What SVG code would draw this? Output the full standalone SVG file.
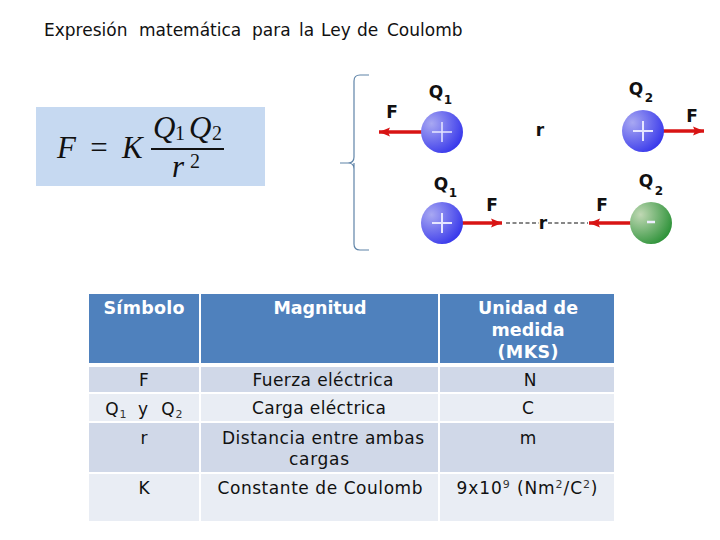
<svg xmlns="http://www.w3.org/2000/svg" width="720" height="540" viewBox="0 0 720 540">
<style>
text{font-family:"DejaVu Sans",Verdana,sans-serif;fill:#111;font-size:17px;text-anchor:middle}
.h{fill:#4f81bd}.a{fill:#d0d8e8}.b{fill:#e9edf4}
.th{fill:#fff;font-weight:bold;font-size:17.5px}
.lbl{font-weight:bold;font-size:17px;fill:#111}
.ls{font-weight:bold;font-size:12px;fill:#111}
.sub{font-size:11px;fill:#333}
.math{font-family:"Liberation Serif","Times New Roman",serif;font-style:italic;font-size:31px;text-anchor:start}
.num{font-family:"Liberation Serif","Times New Roman",serif;font-size:20px}
.plus{stroke:#e6e6ff;stroke-width:1.5}
.arr{stroke:#d81414;stroke-width:3.5}
.dash{stroke:#111;stroke-width:1.2;stroke-dasharray:4 2.5}
</style>
<defs>
<radialGradient id="bl" cx="0.25" cy="0.3" r="0.9"><stop offset="0" stop-color="#a8a8f2"/><stop offset="1" stop-color="#2b2bea"/></radialGradient>
<radialGradient id="gr" cx="0.25" cy="0.3" r="0.9"><stop offset="0" stop-color="#c0d8b4"/><stop offset="1" stop-color="#1c8a2a"/></radialGradient>
<marker id="ah" markerUnits="userSpaceOnUse" markerWidth="12" markerHeight="10" refX="11" refY="5" orient="auto"><path d="M0 0.5L11 5L0 9.5L2 5Z" fill="#d81414"/></marker>
</defs>
<text id="title" y="36" style="text-anchor:start"><tspan x="44">Expresión</tspan> <tspan x="139">matemática</tspan> <tspan x="252">para</tspan> <tspan x="299">la</tspan> <tspan x="321">Ley</tspan> <tspan x="357">de</tspan> <tspan x="387">Coulomb</tspan></text>
<g id="formula">
<rect x="36" y="107" width="229" height="79" fill="#c6d9f1"/>
<text class="math" x="57" y="158">F</text>
<text x="99" y="158" style="font-family:'Liberation Serif',serif;font-size:31px">=</text>
<text class="math" x="122" y="158">K</text>
<text class="math" x="153" y="138">Q</text>
<text class="num" x="180" y="140">1</text>
<text class="math" x="189" y="138">Q</text>
<text class="num" x="217" y="140">2</text>
<rect x="151" y="148" width="73" height="2" fill="#111"/>
<text class="math" x="172" y="177">r</text>
<text class="num" x="195" y="168">2</text>
</g>
<g id="connectors">
<path d="M369 75H360Q354 75 354 81V157Q354 163 348 163H340M354 163V244Q354 250 360 250H369M348 163Q354 163 354 169" fill="none" stroke="#5f84a8" stroke-width="1.2"/>
<line class="arr" x1="422" y1="132" x2="379" y2="132" marker-end="url(#ah)"/>
<line class="arr" x1="663" y1="131" x2="704" y2="131" marker-end="url(#ah)"/>
<line class="arr" x1="461" y1="223" x2="502" y2="223" marker-end="url(#ah)"/>
<line class="arr" x1="631" y1="223" x2="589" y2="223" marker-end="url(#ah)"/>
<line class="dash" x1="506" y1="223" x2="539" y2="223"/>
<line class="dash" x1="548" y1="223" x2="588" y2="223"/>
</g>
<g id="q1a"><circle cx="442" cy="132" r="21" fill="url(#bl)"/><path class="plus" d="M432 132H452M442 122V142"/>
<text class="lbl" x="436" y="98">Q</text><text class="ls" x="448" y="104">1</text></g>
<g id="q2a"><circle cx="643" cy="131" r="21" fill="url(#bl)"/><path class="plus" d="M633 131H653M643 121V141" style="stroke-width:2"/>
<text class="lbl" x="636" y="95">Q</text><text class="ls" x="649" y="102">2</text></g>
<g id="q1b"><circle cx="442" cy="223" r="21" fill="url(#bl)"/><path class="plus" d="M432 223H452M442 213V233" style="stroke-width:2"/>
<text class="lbl" x="441" y="190">Q</text><text class="ls" x="453" y="197">1</text></g>
<g id="q2b"><circle cx="651" cy="223" r="21" fill="url(#gr)"/><path d="M647 222H655" stroke="#eef" stroke-width="2.5"/>
<text class="lbl" x="646" y="187">Q</text><text class="ls" x="659" y="195">2</text></g>
<text class="lbl" x="392" y="118">F</text>
<text class="lbl" x="692" y="122">F</text>
<text class="lbl" x="492" y="211">F</text>
<text class="lbl" x="602" y="211">F</text>
<text class="lbl" x="540" y="136">r</text>
<text class="lbl" x="543" y="229">r</text>
<g id="table">
<rect class="h" x="89" y="294" width="110" height="69"/><rect class="h" x="201" y="294" width="237" height="69"/><rect class="h" x="440" y="294" width="174" height="69"/>
<rect class="a" x="89" y="367" width="110" height="25"/><rect class="a" x="201" y="367" width="237" height="25"/><rect class="a" x="440" y="367" width="174" height="25"/>
<rect class="b" x="89" y="394" width="110" height="27"/><rect class="b" x="201" y="394" width="237" height="27"/><rect class="b" x="440" y="394" width="174" height="27"/>
<rect class="a" x="89" y="423" width="110" height="49"/><rect class="a" x="201" y="423" width="237" height="49"/><rect class="a" x="440" y="423" width="174" height="49"/>
<rect class="b" x="89" y="474" width="110" height="47"/><rect class="b" x="201" y="474" width="237" height="47"/><rect class="b" x="440" y="474" width="174" height="47"/>
<text class="th" x="144" y="314" textLength="81">Símbolo</text>
<text class="th" x="320" y="314" textLength="93">Magnitud</text>
<text class="th" x="528" y="314" textLength="100">Unidad de</text>
<text class="th" x="528" y="336" textLength="73">medida</text>
<text class="th" x="528" y="358" textLength="61">(MKS)</text>
<text x="144" y="386">F</text>
<text x="323" y="386" textLength="141">Fuerza eléctrica</text>
<text x="530" y="386">N</text>
<text x="112" y="415">Q</text><text class="sub" x="123" y="418">1</text><text x="143" y="415">y</text><text x="168" y="415">Q</text><text class="sub" x="179" y="418">2</text>
<text x="319" y="414" textLength="134">Carga eléctrica</text>
<text x="528" y="414">C</text>
<text x="144" y="444">r</text>
<text x="323" y="444" textLength="202">Distancia entre ambas</text>
<text x="319" y="465" textLength="60">cargas</text>
<text x="528" y="444">m</text>
<text x="144" y="494">K</text>
<text x="320" y="494" textLength="205">Constante de Coulomb</text>
<text x="527" y="494" textLength="141">9x10<tspan class="sub" dy="-6">9</tspan><tspan dy="6"> (Nm</tspan><tspan class="sub" dy="-6">2</tspan><tspan dy="6">/C</tspan><tspan class="sub" dy="-6">2</tspan><tspan dy="6">)</tspan></text>
</g>
</svg>
